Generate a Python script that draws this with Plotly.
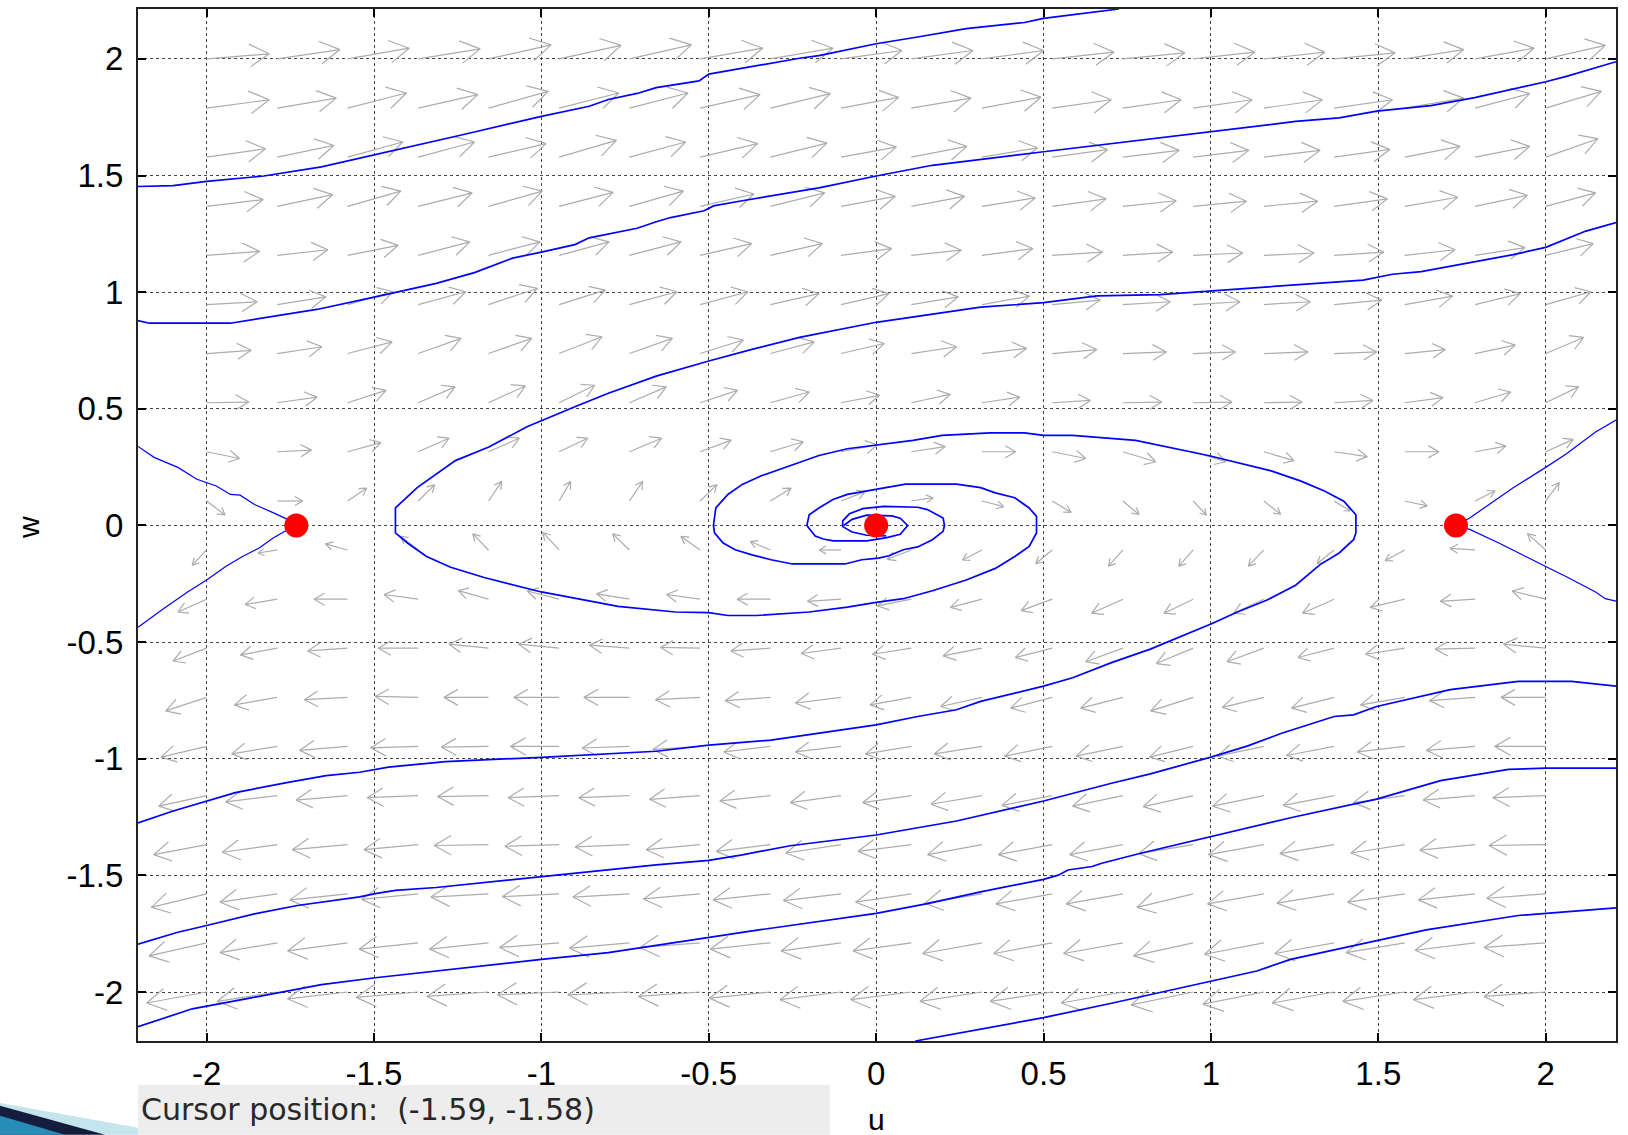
import math
import plotly.graph_objects as go

# ---------------- data ----------------
tick_vals = [-2, -1.5, -1, -0.5, 0, 0.5, 1, 1.5, 2]
tick_text = ["-2", "-1.5", "-1", "-0.5", "0", "0.5", "1", "1.5", "2"]

# equilibrium points
eq_u = [-1.732, 0.0, 1.732]
eq_w = [0.0, 0.0, 0.0]

# arrow grid (tails)
grid_u = [-2.0, -1.789, -1.579, -1.368, -1.158, -0.947, -0.737, -0.526, -0.316, -0.105,
          0.105, 0.316, 0.526, 0.737, 0.947, 1.158, 1.368, 1.579, 1.789, 2.0]
grid_w = [2.0, 1.789, 1.579, 1.368, 1.158, 0.947, 0.737, 0.526, 0.316, 0.105,
          -0.105, -0.316, -0.526, -0.737, -0.947, -1.158, -1.368, -1.579, -1.789, -2.0]

# arrow components (data units), one row per grid_w value, one column per grid_u value
arrow_du = [
    [0.187,0.187,0.184,0.185,0.187,0.185,0.185,0.187,0.187,0.182,0.184,0.184,0.184,0.185,0.184,0.182,0.182,0.176,0.176,0.178],
    [0.187,0.176,0.176,0.178,0.178,0.178,0.175,0.179,0.179,0.172,0.178,0.176,0.176,0.174,0.176,0.175,0.174,0.176,0.163,0.166],
    [0.176,0.169,0.165,0.168,0.172,0.171,0.168,0.172,0.169,0.165,0.166,0.166,0.165,0.168,0.166,0.168,0.166,0.165,0.163,0.156],
    [0.169,0.165,0.159,0.161,0.161,0.161,0.161,0.161,0.162,0.162,0.159,0.159,0.161,0.159,0.159,0.161,0.159,0.158,0.156,0.149],
    [0.158,0.151,0.151,0.154,0.154,0.149,0.154,0.154,0.155,0.151,0.149,0.152,0.150,0.149,0.148,0.150,0.148,0.150,0.149,0.142],
    [0.151,0.145,0.136,0.142,0.146,0.138,0.142,0.143,0.145,0.143,0.140,0.142,0.143,0.142,0.140,0.139,0.142,0.143,0.135,0.135],
    [0.133,0.133,0.133,0.128,0.129,0.128,0.128,0.129,0.131,0.129,0.135,0.133,0.133,0.130,0.126,0.132,0.127,0.121,0.120,0.113],
    [0.126,0.119,0.115,0.110,0.110,0.106,0.110,0.112,0.116,0.115,0.116,0.113,0.114,0.116,0.116,0.114,0.116,0.114,0.106,0.098],
    [0.098,0.102,0.100,0.092,0.092,0.085,0.096,0.093,0.098,0.108,0.101,0.101,0.100,0.098,0.097,0.090,0.099,0.102,0.092,0.082],
    [0.055,0.076,0.057,0.049,0.039,0.034,0.039,0.050,0.062,0.072,0.065,0.065,0.056,0.048,0.039,0.050,0.048,0.067,0.059,0.040],
    [-0.043,-0.057,-0.066,-0.052,-0.047,-0.049,-0.050,-0.057,-0.060,-0.065,-0.072,-0.058,-0.049,-0.043,-0.043,-0.046,-0.051,-0.059,-0.075,-0.054],
    [-0.086,-0.096,-0.100,-0.102,-0.090,-0.095,-0.098,-0.100,-0.099,-0.100,-0.101,-0.094,-0.093,-0.093,-0.087,-0.090,-0.094,-0.103,-0.104,-0.100],
    [-0.100,-0.110,-0.119,-0.119,-0.118,-0.121,-0.119,-0.118,-0.118,-0.119,-0.116,-0.116,-0.110,-0.111,-0.110,-0.110,-0.108,-0.117,-0.119,-0.126],
    [-0.122,-0.128,-0.129,-0.128,-0.133,-0.135,-0.136,-0.133,-0.135,-0.136,-0.123,-0.123,-0.124,-0.126,-0.127,-0.124,-0.127,-0.132,-0.136,-0.133],
    [-0.136,-0.136,-0.143,-0.142,-0.141,-0.145,-0.141,-0.141,-0.139,-0.136,-0.137,-0.142,-0.142,-0.140,-0.130,-0.139,-0.142,-0.142,-0.145,-0.152],
    [-0.143,-0.154,-0.154,-0.152,-0.152,-0.152,-0.151,-0.151,-0.151,-0.151,-0.145,-0.152,-0.150,-0.150,-0.149,-0.153,-0.152,-0.153,-0.155,-0.158],
    [-0.158,-0.164,-0.165,-0.162,-0.162,-0.162,-0.162,-0.161,-0.161,-0.165,-0.159,-0.162,-0.161,-0.159,-0.163,-0.165,-0.162,-0.161,-0.165,-0.169],
    [-0.165,-0.171,-0.172,-0.169,-0.172,-0.169,-0.169,-0.169,-0.171,-0.172,-0.166,-0.171,-0.168,-0.169,-0.168,-0.168,-0.171,-0.171,-0.169,-0.176],
    [-0.172,-0.171,-0.179,-0.176,-0.176,-0.178,-0.179,-0.179,-0.179,-0.179,-0.174,-0.177,-0.175,-0.177,-0.178,-0.177,-0.177,-0.175,-0.179,-0.184],
    [-0.179,-0.179,-0.179,-0.185,-0.184,-0.184,-0.184,-0.184,-0.182,-0.182,-0.181,-0.185,-0.185,-0.184,-0.185,-0.182,-0.185,-0.185,-0.184,-0.184],
]
arrow_dw = [
    [0.022,0.040,0.046,0.043,0.060,0.058,0.060,0.046,0.046,0.036,0.036,0.036,0.029,0.026,0.029,0.029,0.026,0.040,0.046,0.058],
    [0.036,0.043,0.065,0.058,0.072,0.065,0.065,0.058,0.062,0.046,0.043,0.047,0.036,0.036,0.036,0.036,0.036,0.043,0.062,0.072],
    [0.036,0.050,0.065,0.065,0.058,0.072,0.065,0.058,0.060,0.043,0.046,0.040,0.032,0.029,0.029,0.029,0.033,0.046,0.046,0.079],
    [0.029,0.050,0.065,0.058,0.065,0.060,0.065,0.053,0.058,0.043,0.043,0.036,0.032,0.024,0.022,0.022,0.032,0.039,0.047,0.058],
    [0.017,0.024,0.043,0.058,0.058,0.058,0.058,0.050,0.050,0.029,0.022,0.029,0.014,0.014,0.010,0.010,0.014,0.024,0.033,0.050],
    [0.012,0.033,0.055,0.055,0.069,0.062,0.055,0.055,0.047,0.047,0.033,0.036,0.019,0.012,0.012,0.012,0.019,0.036,0.047,0.055],
    [0.014,0.029,0.050,0.065,0.065,0.072,0.065,0.058,0.050,0.043,0.029,0.022,0.017,0.007,0.007,0.007,0.007,0.017,0.036,0.069],
    [0.003,0.024,0.053,0.068,0.072,0.075,0.068,0.053,0.046,0.032,0.036,0.024,0.010,0.003,0.003,0.003,0.010,0.022,0.046,0.068],
    [-0.029,0.007,0.039,0.058,0.058,0.058,0.058,0.050,0.043,0.029,0.022,0.000,-0.029,-0.043,-0.043,-0.038,-0.021,0.000,0.024,0.053],
    [-0.060,0.000,0.055,0.069,0.083,0.083,0.083,0.069,0.055,0.040,0.014,-0.024,-0.049,-0.058,-0.060,-0.057,-0.043,-0.021,0.043,0.078],
    [-0.065,-0.013,0.026,0.058,0.069,0.075,0.069,0.058,0.036,0.000,-0.040,-0.043,-0.058,-0.069,-0.069,-0.069,-0.058,-0.046,0.007,0.069],
    [-0.055,-0.023,0.000,0.020,0.037,0.035,0.023,0.020,0.000,-0.009,-0.029,-0.035,-0.049,-0.060,-0.060,-0.060,-0.060,-0.035,-0.009,0.035],
    [-0.055,-0.029,-0.012,0.000,0.017,0.017,0.013,0.003,-0.012,-0.023,-0.026,-0.033,-0.040,-0.058,-0.066,-0.058,-0.040,-0.026,-0.004,0.017],
    [-0.058,-0.032,-0.010,0.004,0.000,0.000,0.000,-0.010,-0.014,-0.024,-0.032,-0.039,-0.046,-0.046,-0.058,-0.043,-0.046,-0.032,-0.014,0.000],
    [-0.046,-0.032,-0.017,-0.006,-0.003,0.000,-0.007,-0.013,-0.024,-0.024,-0.032,-0.032,-0.042,-0.042,-0.046,-0.042,-0.039,-0.024,-0.017,0.000],
    [-0.045,-0.027,-0.019,-0.009,-0.004,-0.009,-0.009,-0.016,-0.023,-0.030,-0.030,-0.037,-0.042,-0.045,-0.047,-0.045,-0.042,-0.030,-0.019,-0.009],
    [-0.043,-0.033,-0.022,-0.022,-0.004,-0.007,-0.010,-0.022,-0.029,-0.036,-0.029,-0.043,-0.043,-0.043,-0.039,-0.043,-0.039,-0.036,-0.024,-0.004],
    [-0.058,-0.036,-0.026,-0.024,-0.014,-0.012,-0.014,-0.022,-0.026,-0.029,-0.036,-0.040,-0.043,-0.043,-0.058,-0.043,-0.040,-0.036,-0.026,-0.019],
    [-0.056,-0.042,-0.035,-0.027,-0.027,-0.020,-0.023,-0.020,-0.027,-0.035,-0.035,-0.046,-0.046,-0.046,-0.056,-0.049,-0.046,-0.042,-0.032,-0.020],
    [-0.047,-0.040,-0.029,-0.023,-0.019,-0.012,-0.012,-0.019,-0.026,-0.033,-0.033,-0.040,-0.040,-0.047,-0.055,-0.052,-0.047,-0.040,-0.033,-0.019],
]

# solution curves (u, w)
orbit_top = [(-2.205,1.453),(-2.1,1.457),(-2.0,1.475),(-1.829,1.498),(-1.657,1.537),(-1.5,1.588),
             (-1.371,1.631),(-1.229,1.677),(-1.0,1.754),(-0.857,1.797),(-0.8,1.826),(-0.714,1.852),
             (-0.657,1.877),(-0.529,1.906),(-0.5,1.935),(-0.229,2.003),(-0.171,2.014),(0.0,2.065),
             (0.124,2.094),(0.269,2.130),(0.443,2.156),(0.5,2.174),(0.725,2.214)]
orbit_upper = [(-2.205,0.878),(-2.171,0.867),(-1.929,0.867),(-1.671,0.926),(-1.496,0.980),(-1.314,1.038),
               (-1.2,1.084),(-1.086,1.146),(-1.0,1.172),(-0.9,1.204),(-0.857,1.233),(-0.714,1.274),
               (-0.657,1.302),(-0.614,1.320),(-0.514,1.349),(-0.486,1.370),(-0.4,1.392),(-0.171,1.447),
               (0.0,1.498),(0.168,1.544),(0.5,1.602),(1.0,1.689),(1.253,1.732),(1.383,1.747),
               (1.495,1.776),(1.657,1.800),(1.788,1.834),(2.0,1.902),(2.062,1.925),(2.21,1.988)]
spiral_a = [(-0.097,0.0),(-0.072,0.026),(-0.028,0.044),(0.047,0.041),(0.072,0.031),(0.094,0.0),
            (0.072,-0.038),(0.032,-0.052),(-0.028,-0.066),(-0.128,-0.066),(-0.158,-0.058),(-0.182,-0.045),
            (-0.207,0.0),(-0.2,0.046),(-0.171,0.075),(-0.129,0.111),(-0.086,0.133),(0.007,0.155),
            (0.088,0.177),(0.24,0.177),(0.312,0.162),(0.356,0.14),(0.414,0.119),(0.457,0.075),
            (0.479,0.039),(0.479,0.0),(0.479,-0.032),(0.457,-0.09),(0.414,-0.133),(0.356,-0.184),
            (0.269,-0.234),(0.168,-0.28),(0.081,-0.314),(0.0,-0.33),(-0.086,-0.35),(-0.2,-0.371),
            (-0.357,-0.386),(-0.443,-0.386),(-0.5,-0.374),(-0.6,-0.371),(-0.771,-0.347),(-1.0,-0.285),
            (-1.171,-0.223),(-1.271,-0.179),(-1.343,-0.133),(-1.4,-0.075),(-1.436,-0.032),(-1.436,0.0),
            (-1.436,0.075),(-1.371,0.162),(-1.314,0.22),(-1.257,0.278),(-1.157,0.336),(-1.043,0.423),
            (-0.9,0.509),(-0.8,0.567),(-0.657,0.64),(-0.5,0.705),(-0.371,0.755),(-0.229,0.806),
            (0.0,0.871),(0.312,0.936),(0.5,0.955),(0.66,0.984),(0.848,0.99),(1.0,1.006),
            (1.455,1.052),(1.542,1.077),(1.628,1.088),(1.903,1.161),(2.0,1.192),(2.12,1.262),(2.21,1.298)]
spiral_b = [(0.03,-0.045),(-0.028,-0.042),(-0.072,-0.028),(-0.1,-0.005),(-0.1,0.02),(-0.08,0.05),
            (-0.04,0.072),(0.023,0.082),(0.124,0.078),(0.153,0.068),(0.2,0.032),
            (0.204,0.0),(0.2,-0.025),(0.168,-0.061),(0.124,-0.092),(0.081,-0.104),(0.038,-0.13),
            (0.007,-0.14),(-0.043,-0.147),(-0.093,-0.165),(-0.25,-0.165),(-0.314,-0.147),(-0.371,-0.126),
            (-0.421,-0.104),(-0.457,-0.075),(-0.483,-0.032),(-0.486,0.0),(-0.479,0.075),(-0.443,0.133),
            (-0.4,0.176),(-0.343,0.213),(-0.286,0.242),(-0.171,0.3),(-0.086,0.329),(0.0,0.345),
            (0.11,0.365),(0.197,0.386),(0.341,0.397),(0.443,0.397),(0.5,0.386),(0.587,0.386),
            (0.775,0.365),(0.992,0.3),(1.18,0.234),(1.267,0.191),(1.339,0.148),(1.397,0.104),
            (1.433,0.046),(1.433,0.0),(1.433,-0.032),(1.426,-0.061),(1.383,-0.118),(1.325,-0.169),
            (1.253,-0.256),(1.166,-0.321),(1.079,-0.371),(1.0,-0.422),(0.891,-0.487),(0.819,-0.53),
            (0.703,-0.588),(0.587,-0.653),(0.5,-0.689),(0.414,-0.718),(0.312,-0.754),(0.24,-0.79),
            (0.124,-0.819),(0.0,-0.855),(-0.314,-0.92),(-0.5,-0.942),(-0.657,-0.968),(-1.0,-0.994),
            (-1.286,-1.012),(-1.457,-1.036),(-1.543,-1.058),(-1.643,-1.072),(-1.757,-1.101),(-1.914,-1.145),
            (-2.0,-1.181),(-2.1,-1.224),(-2.205,-1.275)]
orbit_low1 = [(-2.205,-1.795),(-2.086,-1.744),(-2.0,-1.715),(-1.857,-1.665),(-1.729,-1.629),(-1.543,-1.592),
              (-1.496,-1.578),(-1.436,-1.564),(-1.314,-1.552),(-1.143,-1.527),(-1.0,-1.503),(-0.857,-1.484),
              (-0.657,-1.455),(-0.5,-1.436),(-0.4,-1.412),(-0.257,-1.373),(0.0,-1.327),(0.24,-1.267),
              (0.5,-1.181),(0.703,-1.105),(0.819,-1.065),(1.0,-0.993),(1.108,-0.946),(1.209,-0.892),
              (1.368,-0.819),(1.426,-0.812),(1.495,-0.776),(1.715,-0.704),(1.918,-0.668),(2.077,-0.668),(2.21,-0.689)]
orbit_low2 = [(-2.205,-2.149),(-2.043,-2.072),(-1.871,-2.026),(-1.657,-1.968),(-1.496,-1.939),(-1.229,-1.896),
              (-1.0,-1.860),(-0.8,-1.831),(-0.5,-1.766),(-0.4,-1.744),(0.0,-1.663),(0.153,-1.621),
              (0.312,-1.571),(0.5,-1.517),(0.544,-1.499),(0.573,-1.477),(0.645,-1.462),(0.674,-1.448),
              (0.790,-1.405),(0.919,-1.361),(1.0,-1.332),(1.238,-1.253),(1.495,-1.173),(1.686,-1.094),
              (1.889,-1.046),(2.0,-1.040),(2.21,-1.040)]
orbit_low3 = [(0.117,-2.21),(0.269,-2.171),(0.5,-2.110),(0.703,-2.048),(0.905,-1.983),(1.0,-1.954),
              (1.137,-1.910),(1.238,-1.860),(1.31,-1.838),(1.495,-1.780),(1.643,-1.734),(1.918,-1.672),(2.21,-1.639)]
sep_left_up = [(-2.205,0.339),(-2.157,0.292),(-2.086,0.249),(-2.029,0.198),(-1.971,0.169),(-1.929,0.133),
               (-1.9,0.13),(-1.857,0.09),(-1.8,0.054),(-1.757,0.025),(-1.732,0.0)]
sep_left_down = [(-1.732,0.0),(-1.757,-0.017),(-1.8,-0.053),(-1.843,-0.097),(-1.893,-0.133),(-1.943,-0.176),
                 (-2.0,-0.234),(-2.057,-0.285),(-2.129,-0.357),(-2.205,-0.436)]
sep_right_up = [(1.732,0.0),(1.773,0.032),(1.831,0.09),(1.903,0.162),(2.0,0.249),(2.062,0.307),
                (2.149,0.401),(2.21,0.452)]
sep_right_down = [(1.732,0.0),(1.773,-0.017),(1.86,-0.075),(1.918,-0.118),(2.0,-0.176),(2.062,-0.22),
                  (2.149,-0.285),(2.178,-0.314),(2.21,-0.324)]

main_orbits = [orbit_top, orbit_upper, spiral_a, spiral_b, orbit_low1, orbit_low2, orbit_low3]
separatrices = [sep_left_up, sep_left_down, sep_right_up, sep_right_down]

# ---------------- layout geometry ----------------
W, H = 1628, 1135
ML, MR, MT, MB = 138, 12, 7, 94
XR = [-2.205, 2.21]
YR = [-2.21, 2.214]
PW, PH = W - ML - MR, H - MT - MB
SX = PW / (XR[1] - XR[0])
SY = PH / (YR[1] - YR[0])

# arrows: shaft + open V head, built in screen space
ax_x, ax_y = [], []
HEAD_FRAC, HEAD_ANG = 0.36, math.radians(30)
for i, w0 in enumerate(grid_w):
    for j, u0 in enumerate(grid_u):
        du, dw = arrow_du[i][j], arrow_dw[i][j]
        px, py = du * SX, dw * SY
        L = math.hypot(px, py)
        if L == 0:
            continue
        ex, ey = px / L, py / L
        hl = HEAD_FRAC * L
        tu, tw = u0 + du, w0 + dw
        wings = []
        for s in (1, -1):
            c, sn = math.cos(s * HEAD_ANG), math.sin(s * HEAD_ANG)
            rx, ry = ex * c - ey * sn, ex * sn + ey * c
            wings.append((tu - hl * rx / SX, tw - hl * ry / SY))
        ax_x += [u0, tu, None, wings[0][0], tu, wings[1][0], None]
        ax_y += [w0, tw, None, wings[0][1], tw, wings[1][1], None]

fig = go.Figure()
fig.add_trace(go.Scatter(x=ax_x, y=ax_y, mode="lines",
                         line=dict(color="rgb(172,172,172)", width=1.2),
                         hoverinfo="skip", showlegend=False))
for crv in main_orbits:
    fig.add_trace(go.Scatter(x=[p[0] for p in crv], y=[p[1] for p in crv], mode="lines",
                             line=dict(color="rgb(0,0,255)", width=1.7), showlegend=False))
for crv in separatrices:
    fig.add_trace(go.Scatter(x=[p[0] for p in crv], y=[p[1] for p in crv], mode="lines",
                             line=dict(color="rgb(0,0,255)", width=1.2), showlegend=False))
fig.add_trace(go.Scatter(x=eq_u, y=eq_w, mode="markers",
                         marker=dict(color="rgb(255,0,0)", size=24, line=dict(width=0)),
                         showlegend=False))

axis_common = dict(
    tickvals=tick_vals, ticktext=tick_text, ticks="inside", ticklen=8, tickwidth=1.5,
    tickcolor="black", showline=True, linecolor="#222", linewidth=2, mirror="ticks",
    showgrid=True, gridcolor="#444", griddash="dot", gridwidth=1, zeroline=False,
    tickfont=dict(family="Liberation Sans, Arial, sans-serif", size=33, color="black"),
)
fig.update_xaxes(range=XR, ticklabelstandoff=2, **axis_common)
fig.update_yaxes(range=YR, ticklabelstandoff=6, **axis_common)

def pxx(x):
    return (x - ML) / PW

def pxy(y):
    return (H - MB - y) / PH

shapes = [
    dict(type="rect", xref="paper", yref="paper", x0=pxx(138), x1=pxx(830), y0=pxy(1135), y1=pxy(1085),
         fillcolor="rgb(237,237,237)", line=dict(width=0), layer="above"),
    dict(type="path", xref="paper", yref="paper",
         path=f"M {pxx(0)},{pxy(1103)} L {pxx(138)},{pxy(1128)} L {pxx(138)},{pxy(1135)} L {pxx(0)},{pxy(1135)} Z",
         fillcolor="rgb(196,228,238)", line=dict(width=0), layer="above"),
    dict(type="path", xref="paper", yref="paper",
         path=f"M {pxx(0)},{pxy(1106)} L {pxx(105)},{pxy(1135)} L {pxx(0)},{pxy(1135)} Z",
         fillcolor="rgb(20,30,60)", line=dict(width=0), layer="above"),
    dict(type="path", xref="paper", yref="paper",
         path=f"M {pxx(0)},{pxy(1116)} L {pxx(65)},{pxy(1135)} L {pxx(0)},{pxy(1135)} Z",
         fillcolor="rgb(40,140,185)", line=dict(width=0), layer="above"),
]

annotations = [
    dict(text="w", xref="paper", yref="paper", x=pxx(29), y=pxy(526), showarrow=False,
         textangle=-90, font=dict(family="Liberation Sans, Arial, sans-serif", size=30, color="black"),
         xanchor="center", yanchor="middle"),
    dict(text="u", xref="paper", yref="paper", x=pxx(876), y=pxy(1120), showarrow=False,
         font=dict(family="Liberation Sans, Arial, sans-serif", size=30, color="black"),
         xanchor="center", yanchor="middle"),
    dict(text="Cursor position:  (-1.59, -1.58)", xref="paper", yref="paper", x=pxx(139), y=pxy(1110),
         showarrow=False, xanchor="left", yanchor="middle",
         font=dict(family="DejaVu Sans, sans-serif", size=30, color="rgb(40,40,40)")),
]

fig.update_layout(width=W, height=H, margin=dict(l=ML, r=MR, t=MT, b=MB, pad=0),
                  plot_bgcolor="white", paper_bgcolor="white",
                  shapes=shapes, annotations=annotations, showlegend=False)

fig.write_html("out.html", config={"displayModeBar": False},
               post_script="document.body.style.margin='0px';")
